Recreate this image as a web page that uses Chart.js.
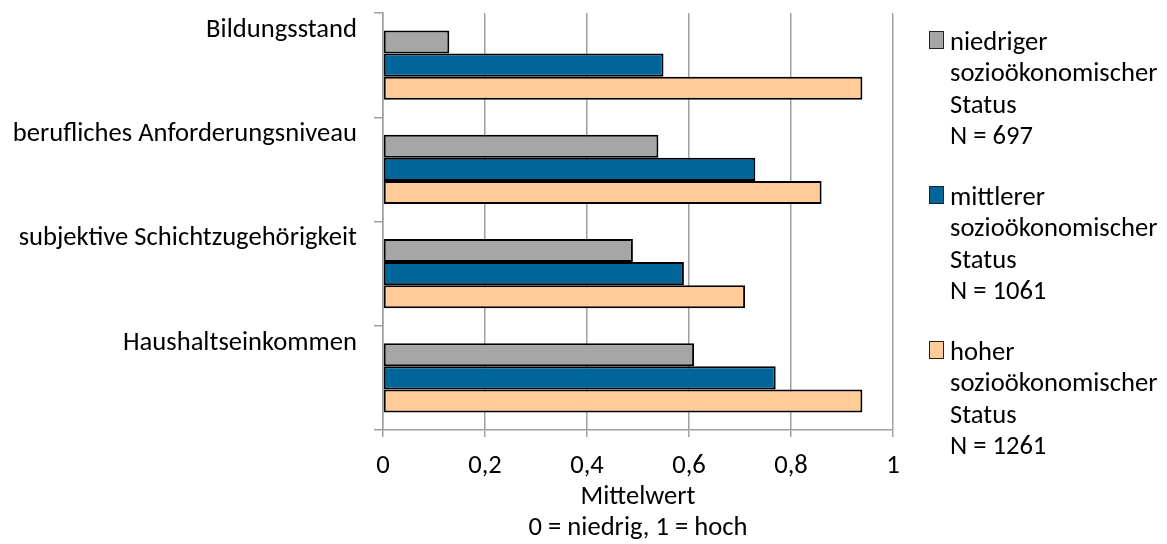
<!DOCTYPE html>
<html><head><meta charset="utf-8">
<script src="https://cdn.jsdelivr.net/npm/chart.js@4/dist/chart.umd.min.js"></script>
<style>html,body{margin:0;padding:0;background:#fff}#wrap{width:1167px;height:544px;position:relative}</style>
</head><body><div id="wrap"><canvas id="c"></canvas></div>
<script>
// Kategorien und Mittelwerte (0 = niedrig, 1 = hoch)
const categories = ['Bildungsstand', 'berufliches Anforderungsniveau', 'subjektive Schichtzugehörigkeit', 'Haushaltseinkommen'];
const niedrigerStatus = [0.13, 0.54, 0.49, 0.61];
const mittlererStatus = [0.55, 0.73, 0.59, 0.77];
const hoherStatus = [0.94, 0.86, 0.71, 0.94];
const seriesNames = [
  ['niedriger', 'sozioökonomischer', 'Status', 'N = 697'],
  ['mittlerer', 'sozioökonomischer', 'Status', 'N = 1061'],
  ['hoher', 'sozioökonomischer', 'Status', 'N = 1261']
];
const xTickLabels = ['0', '0,2', '0,4', '0,6', '0,8', '1'];
const xTitle = ['Mittelwert', '0 = niedrig, 1 = hoch'];

const FONT = 'Carlito, Calibri, Lato, sans-serif';
const FS = 26.6;
const colors = ['#a6a6a6', '#006699', '#ffcc99'];

Chart.defaults.font.family = FONT;
Chart.defaults.font.size = FS;
Chart.defaults.color = '#000';

// Legende rechts, mehrzeilig
const sideLegend = {
  id: 'sideLegend',
  afterDraw(chart) {
    const ctx = chart.ctx;
    ctx.save();
    ctx.font = FS + 'px ' + FONT;
    ctx.textBaseline = 'middle';
    ctx.textAlign = 'left';
    chart.data.datasets.forEach((ds, i) => {
      const y0 = 43 + i * 155;
      ctx.fillStyle = ds.backgroundColor;
      ctx.fillRect(929.5, y0 - 11.5, 14, 17);
      ctx.strokeStyle = '#222';
      ctx.lineWidth = 1;
      ctx.strokeRect(929.5, y0 - 11.5, 14, 17);
      ctx.fillStyle = '#000';
      seriesNames[i].forEach((line, k) => ctx.fillText(line, 950, y0 + k * 31.5));
    });
    ctx.restore();
  }
};

new Chart(document.getElementById('c'), {
  type: 'bar',
  data: {
    labels: categories,
    datasets: [
      { label: seriesNames[0].join(' '), data: niedrigerStatus, backgroundColor: colors[0] },
      { label: seriesNames[1].join(' '), data: mittlererStatus, backgroundColor: colors[1] },
      { label: seriesNames[2].join(' '), data: hoherStatus, backgroundColor: colors[2] }
    ]
  },
  options: {
    indexAxis: 'y',
    responsive: true,
    maintainAspectRatio: false,
    animation: false,
    layout: { padding: { left: 0, top: 13, right: 274, bottom: 0 } },
    datasets: {
      bar: {
        borderColor: '#000',
        borderWidth: 2,
        borderSkipped: false,
        categoryPercentage: 0.665,
        barPercentage: 1
      }
    },
    plugins: { legend: { display: false }, tooltip: { enabled: false } },
    scales: {
      x: {
        min: 0, max: 1,
        ticks: {
          stepSize: 0.2,
          padding: 13,
          color: '#000',
          font: { size: FS },
          maxRotation: 0,
          callback: (v, i) => xTickLabels[i]
        },
        grid: { color: '#a0a0a0', lineWidth: 1.5, tickLength: 7, drawTicks: true },
        border: { color: '#a0a0a0', width: 1.5 },
        title: { display: true, text: xTitle, color: '#000', font: { size: FS, lineHeight: 1.18 }, padding: { top: 7, bottom: 0 } },
        afterFit(s) { s.height = 114; s.paddingLeft = 0; s.paddingRight = 0; }
      },
      y: {
        ticks: { color: '#000', padding: 17, labelOffset: -35, font: { size: FS } },
        grid: { drawOnChartArea: false, drawTicks: true, tickLength: 9, color: '#a0a0a0', lineWidth: 1.5 },
        border: { color: '#a0a0a0', width: 1.5 },
        afterFit(s) { s.width = 383; s.paddingTop = 0; s.paddingBottom = 0; }
      }
    }
  },
  plugins: [sideLegend]
});
</script>
</body></html>
